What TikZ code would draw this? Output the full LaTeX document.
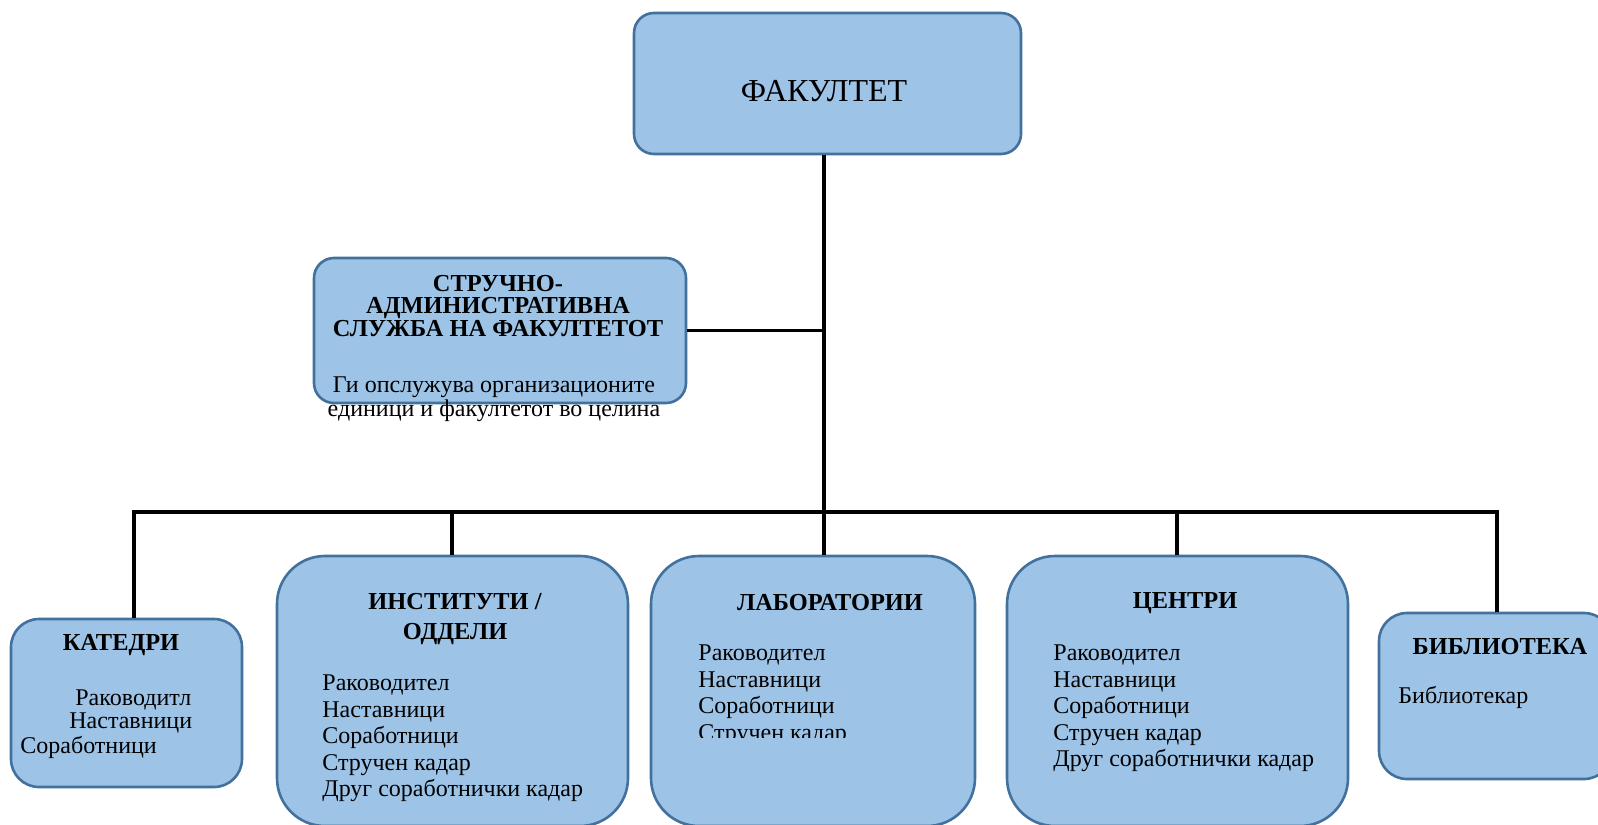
\documentclass[tikz,border=0pt]{standalone}
\usepackage{fontspec}
\setmainfont{Liberation Serif}
\usetikzlibrary{positioning}
\definecolor{unitfill}{HTML}{9DC3E6}
\definecolor{unitline}{HTML}{41719C}

\begin{document}
\begin{tikzpicture}[x=0.5pt, y=-0.5pt,
    unit/.style={draw=unitline, fill=unitfill, line width=1.3pt, inner sep=0pt},
    link/.style={line width=1.8pt},
    head/.style={font=\bfseries\fontsize{12.2}{11.25}\selectfont, inner sep=0pt, align=center},
    body/.style={font=\fontsize{12}{13}\selectfont, inner sep=0pt, text height=8pt, text depth=2.5pt, anchor=west}]
  \useasboundingbox (0,0) rectangle (1598,824);
  \clip (0,0) rectangle (1598,824);

  % connectors
  \coordinate (j-kat) at (134,512);
  \coordinate (j-inst) at (452,512);
  \coordinate (trunk) at (824,512);
  \coordinate (j-cen) at (1177,512);
  \coordinate (j-bib) at (1497,512);

  % boxes
  \node[unit, rounded corners=10pt, minimum width=193.5pt, minimum height=70.5pt] (fac) at (827.5,83.5) {};
  \node[unit, rounded corners=10pt, minimum width=186pt, minimum height=72.5pt] (struc) at (500,330.5) {};
  \node[unit, rounded corners=14pt, minimum width=115.5pt, minimum height=84pt] (kat) at (126.5,703) {};
  \node[unit, rounded corners=24pt, minimum width=175.5pt, minimum height=135pt] (inst) at (452.5,691) {};
  \node[unit, rounded corners=24pt, minimum width=162pt, minimum height=135pt] (lab) at (813,691) {};
  \node[unit, rounded corners=24pt, minimum width=170.5pt, minimum height=135pt] (cen) at (1177.5,691) {};
  \node[unit, rounded corners=14pt, minimum width=116.5pt, minimum height=83pt] (bib) at (1495.5,696) {};

  \draw[link, line width=2.1pt] (trunk |- fac.south) -- (trunk |- lab.north);
  \draw[link] (struc.east) -- (struc.east -| trunk);
  \draw[link] (kat.north -| j-kat) -- (j-kat) -- (j-bib) -- (j-bib |- bib.north);
  \draw[link] (j-inst) -- (j-inst |- inst.north);
  \draw[link] (j-cen) -- (j-cen |- cen.north);

  % texts
  \node[font=\fontsize{16}{19}\selectfont, inner sep=0pt] (fac-t) at (824,91) {ФАКУЛТЕТ};
  \node[head] (struc-t) at (498,306) {СТРУЧНО-\\АДМИНИСТРАТИВНА\\СЛУЖБА НА ФАКУЛТЕТОТ};
  \node[font=\fontsize{12}{12}\selectfont, inner sep=0pt, align=center] (struc-b) at (494,399) {Ги опслужува организационите\\единици и факултетот во целина};

  \node[head] (kat-t) at (121,645) {КАТЕДРИ};
  \node[body] (kat-1) at (75,700) {Раководитл};
  \node[body] (kat-2) at (69,723) {Наставници};
  \node[body] (kat-3) at (20,748) {Соработници};

  \node[head, font=\bfseries\fontsize{12.2}{15}\selectfont] (inst-t) at (455,619) {ИНСТИТУТИ /\\ОДДЕЛИ};
  \foreach \t [count=\i] in {Раководител, Наставници, Соработници, Стручен кадар, Друг соработнички кадар}
    \node[body] (inst-\i) at (322,{685+26.6*(\i-1)}) {\t};

  \node[head] (lab-t) at (830,603) {ЛАБОРАТОРИИ};
  \begin{scope}
    \clip (660,600) rectangle (970,737);
    \foreach \t [count=\i] in {Раководител, Наставници, Соработници, Стручен кадар}
      \node[body] (lab-\i) at (698,{655+26.6*(\i-1)}) {\t};
  \end{scope}

  \node[head] (cen-t) at (1185,603) {ЦЕНТРИ};
  \foreach \t [count=\i] in {Раководител, Наставници, Соработници, Стручен кадар, Друг соработнички кадар}
    \node[body] (cen-\i) at (1053,{655+26.6*(\i-1)}) {\t};

  \node[head] (bib-t) at (1500,647) {БИБЛИОТЕКА};
  \node[body] (bib-1) at (1398,698) {Библиотекар};
\end{tikzpicture}
\end{document}
